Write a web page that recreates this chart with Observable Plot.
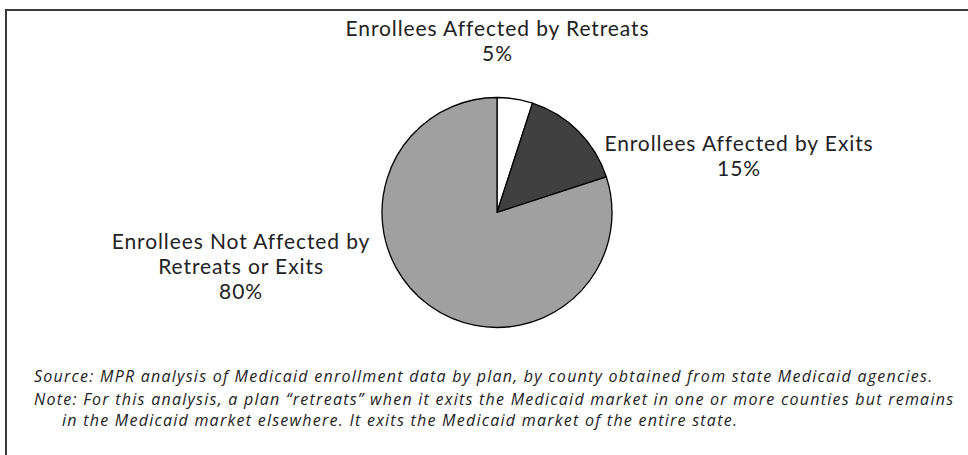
<!DOCTYPE html>
<html><head><meta charset="utf-8">
<script src="https://cdn.jsdelivr.net/npm/d3@7"></script>
<script src="https://cdn.jsdelivr.net/npm/@observablehq/plot@0.6"></script>
<style>
body{margin:0;background:#fff;width:968px;height:455px;overflow:hidden;position:relative;font-family:Lato,"Open Sans",sans-serif;}
#frame{position:absolute;left:5px;top:9px;width:980px;height:470px;border-top:2px solid #3a3a3a;border-left:2px solid #3a3a3a;}
#chart{position:absolute;left:0;top:0;}
#chart svg text{letter-spacing:0.9px;}
#notes{position:absolute;left:34px;top:364px;font-family:"Open Sans",Lato,sans-serif;font-style:italic;font-size:16px;letter-spacing:1.25px;color:#222;line-height:24px;white-space:nowrap;}
#notes .note{padding-left:28px;text-indent:-28px;line-height:20.5px;margin-top:1px;}
</style></head><body>
<div id="frame"></div>
<div id="chart"></div>
<div id="notes">
<div class="src">Source: MPR analysis of Medicaid enrollment data by plan, by county obtained from state Medicaid agencies.</div>
<div class="note">Note: For this analysis, a plan “retreats” when it exits the Medicaid market in one or more counties but remains<br>in the Medicaid market elsewhere. It exits the Medicaid market of the entire state.</div>
</div>
<script>
// ---- data ----
const categories = ["Enrollees Affected by Retreats", "Enrollees Affected by Exits", "Enrollees Not Affected by Retreats or Exits"];
const shares = [5, 15, 80];
const labelLines = [["Enrollees Affected by Retreats"], ["Enrollees Affected by Exits"], ["Enrollees Not Affected by", "Retreats or Exits"]];
const sliceFills = ["#ffffff", "#404040", "#a0a0a0"];

// ---- layout (not data) ----
const CX = 497, CY = 212.5, R = 115;
const labelOffsets = [[0, 1.50], [2.10, 0.50], [-2.23, -0.46]]; // in radius units

const rows = categories.map((c, i) => ({
  category: c, share: shares[i], fill: sliceFills[i],
  text: labelLines[i].join("\n") + "\n" + shares[i] + "%",
  lx: labelOffsets[i][0], ly: labelOffsets[i][1]
}));

function pieMark(data) {
  return (index, scales, values, dimensions, context) => {
    const cx = scales.x(0), cy = scales.y(0), r = scales.x(1) - scales.x(0);
    const arcs = d3.pie().sort(null).value(d => d.share)(data);
    const arc = d3.arc().innerRadius(0).outerRadius(r);
    const g = d3.create("svg:g").attr("transform", `translate(${cx},${cy})`);
    g.selectAll("path").data(arcs).join("path")
      .attr("d", arc)
      .attr("fill", d => d.data.fill)
      .attr("stroke", "#000")
      .attr("stroke-width", 1.3)
      .attr("stroke-linejoin", "round");
    return g.node();
  };
}

const chart = Plot.plot({
  width: 968, height: 355,
  margin: 0,
  style: {background: "transparent", overflow: "visible"},
  x: {domain: [-1, 1], range: [CX - R, CX + R], axis: null},
  y: {domain: [-1, 1], range: [CY + R, CY - R], axis: null},
  marks: [
    pieMark(rows),
    Plot.text(rows, {
      x: "lx", y: "ly", text: "text",
      textAnchor: "middle", lineAnchor: "middle", lineHeight: 1.18,
      fontSize: 21, fill: "#222", fontFamily: "Lato, 'Open Sans', sans-serif"
    })
  ]
});
document.getElementById("chart").appendChild(chart);
</script>
</body></html>
